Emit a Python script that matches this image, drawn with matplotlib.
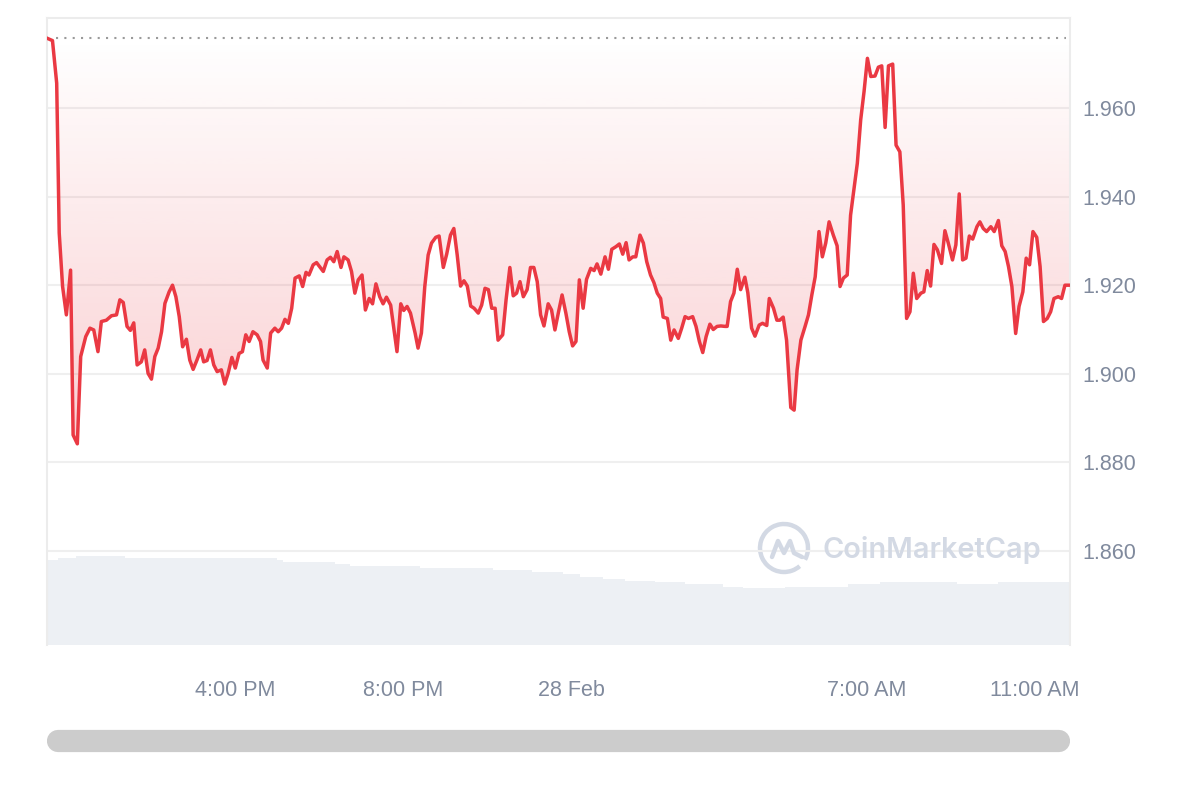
import matplotlib
matplotlib.use('Agg')

import numpy as np
import matplotlib.pyplot as plt
import matplotlib.colors as mcolors
from matplotlib.patches import Arc
from matplotlib.lines import Line2D

# hours since 27 Feb 00:00, price in USD
hours_a = [11.55, 11.67, 11.77, 11.83, 11.91, 12.00, 12.10, 12.16, 12.26, 12.34,
           12.46, 12.56, 12.65, 12.75, 12.83, 12.95, 13.07, 13.19, 13.27, 13.35,
           13.44, 13.52, 13.60, 13.68, 13.78, 13.86, 13.94, 14.02, 14.10, 14.18,
           14.26, 14.34, 14.44, 14.52, 14.60, 14.68, 14.76, 14.85, 14.93, 15.01,
           15.10, 15.19, 15.26, 15.34, 15.42, 15.50, 15.58, 15.68, 15.76, 15.84,
           15.93, 16.01, 16.10, 16.18, 16.26, 16.34, 16.43, 16.53, 16.61, 16.67,
           16.77, 16.85, 16.95, 17.03, 17.11, 17.19, 17.27, 17.35, 17.43, 17.53,
           17.61, 17.69, 17.76, 17.86, 17.94, 18.10, 18.19, 18.27]
price_a = [1.9757, 1.9752, 1.9656, 1.9318, 1.9197, 1.9133, 1.9234, 1.8862, 1.8842, 1.9039,
           1.9084, 1.9103, 1.9099, 1.9050, 1.9118, 1.9121, 1.9131, 1.9133, 1.9167, 1.9161,
           1.9107, 1.9098, 1.9115, 1.9020, 1.9027, 1.9054, 1.9001, 1.8988, 1.9039, 1.9058,
           1.9095, 1.9159, 1.9185, 1.9200, 1.9174, 1.9129, 1.9061, 1.9078, 1.9031, 1.9010,
           1.9031, 1.9054, 1.9027, 1.9030, 1.9054, 1.9020, 1.9005, 1.9009, 1.8977, 1.9001,
           1.9037, 1.9013, 1.9046, 1.9050, 1.9088, 1.9073, 1.9095, 1.9088, 1.9073, 1.9031,
           1.9013, 1.9092, 1.9103, 1.9095, 1.9103, 1.9123, 1.9114, 1.9148, 1.9216, 1.9221,
           1.9197, 1.9229, 1.9223, 1.9246, 1.9251, 1.9231, 1.9257, 1.9263]

hours_b = [18.35, 18.43, 18.52, 18.59, 18.69, 18.77, 18.85, 18.93, 19.02, 19.10,
           19.19, 19.27, 19.35, 19.44, 19.52, 19.60, 19.70, 19.78, 19.85, 19.94,
           20.01, 20.09, 20.17, 20.28, 20.35, 20.43, 20.51, 20.59, 20.67, 20.77,
           20.85, 20.95, 21.03, 21.12, 21.20, 21.28, 21.36, 21.44, 21.52, 21.60,
           21.68, 21.78, 21.86, 21.94, 22.02, 22.10, 22.18, 22.25, 22.36, 22.44,
           22.53, 22.61, 22.69, 22.77, 22.85, 22.94, 23.02, 23.10, 23.18, 23.26,
           23.34, 23.44, 23.52, 23.60, 23.68, 23.77, 23.86, 23.94, 24.02, 24.10,
           24.18, 24.27, 24.35, 24.45, 24.53, 24.60, 24.69, 24.79, 24.87, 24.95,
           25.05, 25.13, 25.21, 25.29, 25.36]
price_b = [1.9253, 1.9276, 1.9240, 1.9264, 1.9257, 1.9231, 1.9182, 1.9212, 1.9223, 1.9144,
           1.9170, 1.9158, 1.9203, 1.9174, 1.9158, 1.9173, 1.9155, 1.9099, 1.9050, 1.9158,
           1.9143, 1.9152, 1.9137, 1.9092, 1.9058, 1.9092, 1.9197, 1.9268, 1.9295, 1.9308,
           1.9311, 1.9240, 1.9270, 1.9313, 1.9328, 1.9268, 1.9198, 1.9210, 1.9198, 1.9153,
           1.9148, 1.9137, 1.9155, 1.9193, 1.9190, 1.9148, 1.9148, 1.9076, 1.9088, 1.9167,
           1.9240, 1.9176, 1.9182, 1.9208, 1.9174, 1.9190, 1.9240, 1.9240, 1.9208, 1.9133,
           1.9108, 1.9158, 1.9144, 1.9099, 1.9137, 1.9178, 1.9137, 1.9095, 1.9063, 1.9073,
           1.9212, 1.9148, 1.9213, 1.9238, 1.9233, 1.9248, 1.9225, 1.9264, 1.9236, 1.9281,
           1.9287, 1.9293, 1.9270, 1.9296, 1.9257]

hours_c = [25.45, 25.52, 25.62, 25.70, 25.78, 25.87, 25.95, 26.03, 26.11, 26.17,
           26.27, 26.35, 26.43, 26.53, 26.61, 26.69, 26.77, 26.87, 26.95, 27.03,
           27.11, 27.19, 27.28, 27.36, 27.45, 27.54, 27.64, 27.69, 27.77, 27.85,
           27.93, 28.01, 28.11, 28.18, 28.27, 28.35, 28.45, 28.53, 28.63, 28.69,
           28.79, 28.87, 28.94, 29.02, 29.10, 29.20, 29.28, 29.35, 29.44, 29.54,
           29.62, 29.70, 29.78, 29.87, 29.95, 30.03, 30.11, 30.21, 30.30, 30.37,
           30.45, 30.54, 30.62]
price_c = [1.9264, 1.9264, 1.9313, 1.9295, 1.9253, 1.9223, 1.9206, 1.9182, 1.9170, 1.9128,
           1.9125, 1.9076, 1.9099, 1.9080, 1.9103, 1.9129, 1.9125, 1.9129, 1.9107, 1.9073,
           1.9048, 1.9084, 1.9112, 1.9100, 1.9107, 1.9108, 1.9107, 1.9107, 1.9163, 1.9182,
           1.9236, 1.9190, 1.9218, 1.9183, 1.9103, 1.9085, 1.9110, 1.9114, 1.9109, 1.9170,
           1.9148, 1.9121, 1.9121, 1.9128, 1.9076, 1.8924, 1.8918, 1.9009, 1.9076, 1.9107,
           1.9133, 1.9178, 1.9219, 1.9321, 1.9264, 1.9295, 1.9343, 1.9313, 1.9289, 1.9197,
           1.9216, 1.9223, 1.9358]

hours_d = [30.78, 30.86, 30.94, 31.02, 31.10, 31.20, 31.28, 31.36, 31.44, 31.52,
           31.62, 31.70, 31.79, 31.87, 31.95, 32.03, 32.11, 32.19, 32.29, 32.36,
           32.44, 32.52, 32.60, 32.68, 32.78, 32.86, 32.94, 33.04, 33.12, 33.20,
           33.28, 33.36, 33.44, 33.52, 33.62, 33.69, 33.77, 33.85, 33.95, 34.03,
           34.13, 34.21, 34.29, 34.37, 34.45, 34.54, 34.62, 34.71, 34.79, 34.87,
           34.95, 35.04, 35.12, 35.20, 35.29, 35.37, 35.45, 35.55, 35.63, 35.71,
           35.82]
price_d = [1.9475, 1.9573, 1.9637, 1.9712, 1.9671, 1.9672, 1.9692, 1.9695, 1.9556, 1.9695,
           1.9699, 1.9516, 1.9501, 1.9381, 1.9125, 1.9140, 1.9227, 1.9170, 1.9182, 1.9185,
           1.9233, 1.9198, 1.9292, 1.9280, 1.9249, 1.9323, 1.9295, 1.9257, 1.9291, 1.9406,
           1.9257, 1.9261, 1.9311, 1.9304, 1.9332, 1.9343, 1.9328, 1.9321, 1.9332, 1.9321,
           1.9346, 1.9289, 1.9276, 1.9242, 1.9197, 1.9091, 1.9152, 1.9185, 1.9261, 1.9246,
           1.9321, 1.9308, 1.9242, 1.9118, 1.9125, 1.9140, 1.9170, 1.9174, 1.9170, 1.9200,
           1.9200]

# 24h volume steps (millions), edges in hours
vol_edges = [11.54, 11.80, 12.22, 13.39, 17.00, 17.14, 18.38, 18.73, 20.39, 22.13,
             23.05, 23.79, 24.19, 24.74, 25.26, 25.98, 26.69, 27.59, 28.07, 29.06,
             30.56, 31.32, 33.15, 34.12, 35.83]
vol_musd = [1020, 1040, 1068, 1040, 1016, 992, 968, 948, 920, 896,
            872, 848, 820, 796, 772, 752, 732, 700, 680, 700,
            732, 752, 732, 752]

tick_hours = [16, 20, 24, 31, 35]
tick_labels = ["4:00 PM", "8:00 PM", "28 Feb", "7:00 AM", "11:00 AM"]
y_ticks = [1.86, 1.88, 1.90, 1.92, 1.94, 1.96]

RED = '#ea3943'
GREY_TXT = '#808a9d'
GRID = '#efefef'

t = np.array(hours_a + hours_b + hours_c + hours_d)
p = np.array(price_a + price_b + price_c + price_d)
base = p[0]

plt.rcParams['font.family'] = ['Liberation Sans', 'DejaVu Sans']

fig = plt.figure(figsize=(12, 8), dpi=100)
ax = fig.add_axes([47 / 1200, 155 / 800, 1023 / 1200, 627 / 800])

# volume bars underneath
axv = ax.twinx()
axv.bar(vol_edges[:-1], vol_musd, width=np.diff(vol_edges), align='edge',
        color='#edf0f4', linewidth=0)
axv.set_ylim(0, max(vol_musd) / 0.142)
axv.axis('off')
ax.set_zorder(2)
ax.patch.set_visible(False)

x0, x1 = 11.54, 35.83
y0, y1 = 1.8388, 1.9803

# gradient fill between price and the open price
fill = ax.fill_between(t, p, base, facecolor='none', edgecolor='none')
grad = np.zeros((256, 1, 4))
grad[..., :3] = mcolors.to_rgb(RED)
grad[..., 3] = np.linspace(0.24, 0.0, 256)[:, None]
img = ax.imshow(grad, extent=[x0, x1, p.min(), base], origin='lower',
                aspect='auto', zorder=1, interpolation='bilinear')
img.set_clip_path(fill.get_paths()[0], transform=ax.transData)

ax.plot([t[0] + 0.2, x1 - 0.1], [base, base], color='#9a9a9a', lw=1.5,
        linestyle=(0, (1, 3)), zorder=2)
ax.plot(t, p, color=RED, lw=2.5, solid_joinstyle='round', zorder=3)

ax.set_xlim(x0, x1)
ax.set_ylim(y0, y1)
ax.set_yticks(y_ticks)
ax.set_yticklabels([f"{v:.3f}" for v in y_ticks])
ax.set_xticks(tick_hours)
ax.set_xticklabels(tick_labels)
ax.yaxis.tick_right()
ax.tick_params(axis='y', length=0, pad=9, labelsize=15.5, labelcolor=GREY_TXT)
ax.tick_params(axis='x', length=0, pad=25, labelsize=15.5, labelcolor=GREY_TXT)
ax.grid(axis='y', color=GRID, lw=1.5)
ax.grid(axis='x', visible=False)
ax.set_axisbelow(True)
for side in ['left', 'right', 'top']:
    ax.spines[side].set_color('#ececec')
    ax.spines[side].set_linewidth(1.5)
ax.spines['bottom'].set_visible(False)

# watermark
wm = '#d3d9e4'
fig.patches.append(Arc((784 / 1200, 252 / 800), 48 / 1200, 48 / 800, theta1=-40, theta2=300,
                       transform=fig.transFigure, color=wm, lw=3.2))
fig.lines.append(Line2D([772 / 1200, 778 / 1200, 784 / 1200, 790 / 1200, 794 / 1200, 802 / 1200],
                        [243 / 800, 259 / 800, 247 / 800, 259 / 800, 247 / 800, 243 / 800],
                        transform=fig.transFigure, color=wm, lw=3.2,
                        solid_joinstyle='round', solid_capstyle='round'))
fig.text(822 / 1200, 250 / 800, "CoinMarketCap", color=wm, fontsize=20.8,
         fontweight='semibold', family=['Inter', 'DejaVu Sans'], va='center', ha='left')

# scrollbar
fig.lines.append(Line2D([58 / 1200, 1059 / 1200], [59 / 800, 59 / 800],
                        transform=fig.transFigure, color='#cccccc', lw=16,
                        solid_capstyle='round'))

fig.savefig('out.png', dpi=100)
